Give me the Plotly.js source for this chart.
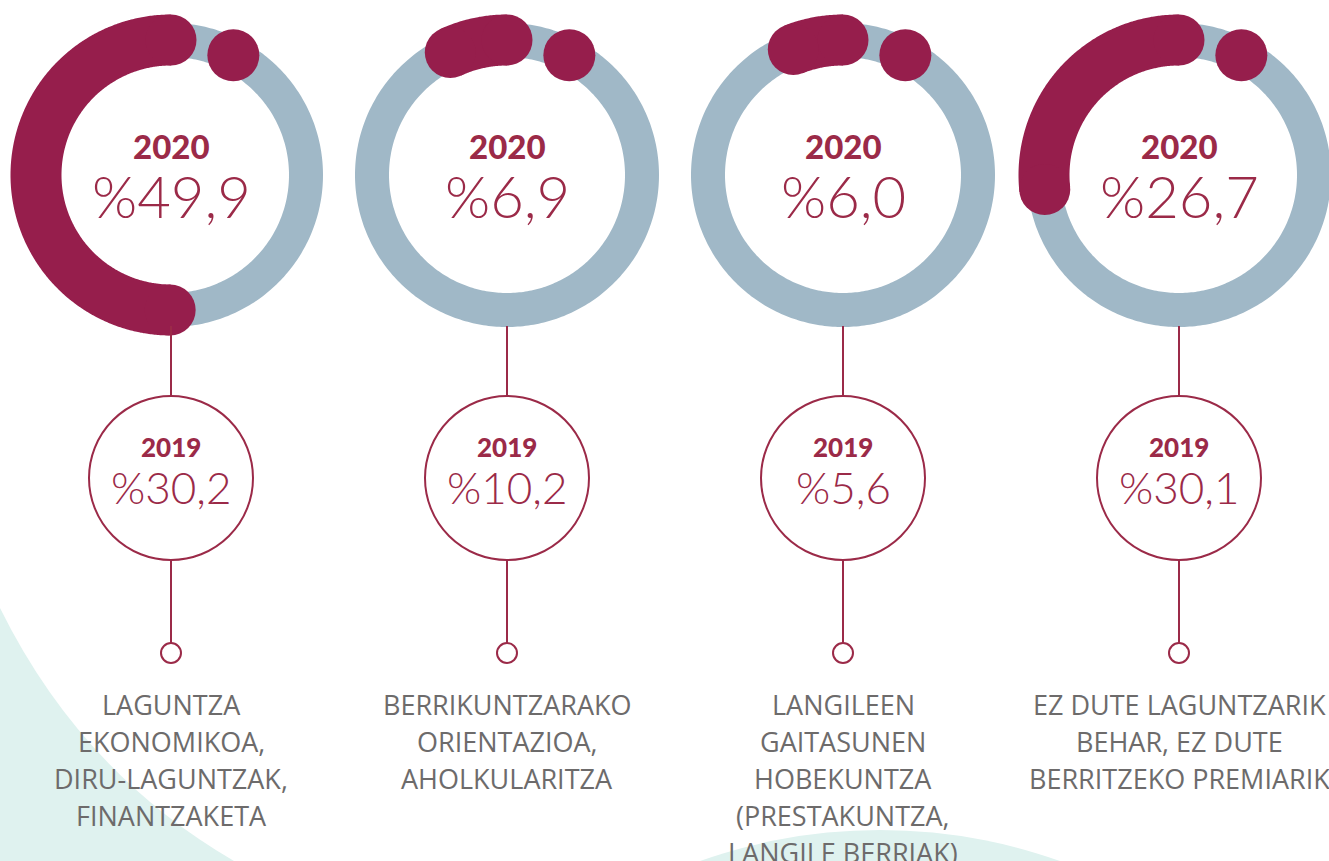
<!DOCTYPE html>
<html>
<head>
<meta charset="utf-8">
<script src="https://cdn.plot.ly/plotly-3.0.1.min.js"></script>
<style>html,body{margin:0;padding:0;background:#fff;}#chart{width:1329px;height:861px;}</style>
</head>
<body>
<div id="chart"></div>
<script>
// ---- data ----
const categories = [
  "LAGUNTZA<br>EKONOMIKOA,<br>DIRU-LAGUNTZAK,<br>FINANTZAKETA",
  "BERRIKUNTZARAKO<br>ORIENTAZIOA,<br>AHOLKULARITZA",
  "LANGILEEN<br>GAITASUNEN<br>HOBEKUNTZA<br>(PRESTAKUNTZA,<br>LANGILE BERRIAK)",
  "EZ DUTE LAGUNTZARIK<br>BEHAR, EZ DUTE<br>BERRITZEKO PREMIARIK"
];
const values2020 = [49.9, 6.9, 6.0, 26.7];
const values2019 = [30.2, 10.2, 5.6, 30.1];
const yearNow = "2020";
const yearPrev = "2019";

// ---- styling / layout geometry ----
const W = 1329, H = 861;
const centersX = [171, 507, 843, 1179];
const cy = 175, rMid = 135;
const ringW = 34, arcW = 51, dotSize = 52, dotAngle = 27.5;
const c2019y = 478, c2019r = 82;
const smallY = 653, smallR = 10;
const maroon = "#961e4c", textMaroon = "#9b2a48", ringBlue = "#a0b8c7", grey = "#6d6b6b", mint = "#dff2ef";

function pt(cx, deg) {
  const a = deg * Math.PI / 180;
  return [cx + rMid * Math.sin(a), cy - rMid * Math.cos(a)];
}
function arcPts(cx, fromDeg, toDeg, step) {
  const xs = [], ys = [];
  const n = Math.max(2, Math.ceil(Math.abs(toDeg - fromDeg) / step) + 1);
  for (let i = 0; i < n; i++) {
    const d = fromDeg + (toDeg - fromDeg) * i / (n - 1);
    const p = pt(cx, d);
    xs.push(p[0]); ys.push(p[1]);
  }
  return {x: xs, y: ys};
}
const fmt = v => "%" + v.toFixed(1).replace(".", ",");

const traces = [];
const shapes = [];
const annotations = [];

// background mint shapes
shapes.push({type: "path", xref: "x", yref: "y", layer: "below",
  path: "M 0 608 Q 81 772 234 861 L 0 861 Z", fillcolor: mint, line: {width: 0}});
shapes.push({type: "circle", xref: "x", yref: "y", layer: "below",
  x0: 342, x1: 1418, y0: 830, y1: 1906, fillcolor: mint, line: {width: 0}});

categories.forEach((cat, i) => {
  const cx = centersX[i];
  // full blue ring
  const ring = arcPts(cx, 0, 360, 1);
  traces.push({type: "scatter", mode: "lines", x: ring.x, y: ring.y,
    line: {color: ringBlue, width: ringW, simplify: false}, hoverinfo: "skip"});
  // maroon arc (counter-clockwise from top)
  const endDeg = -values2020[i] * 3.6;
  const arc = arcPts(cx, 0, endDeg, 0.5);
  traces.push({type: "scatter", mode: "lines", x: arc.x, y: arc.y,
    line: {color: maroon, width: arcW, simplify: false}, hoverinfo: "skip"});
  const p0 = pt(cx, 0), p1 = pt(cx, endDeg), pd = pt(cx, dotAngle);
  traces.push({type: "scatter", mode: "markers", x: [p0[0], p1[0]], y: [p0[1], p1[1]],
    marker: {color: maroon, size: arcW, line: {width: 0}}, hoverinfo: "skip"});
  traces.push({type: "scatter", mode: "markers", x: [pd[0]], y: [pd[1]],
    marker: {color: maroon, size: dotSize, line: {width: 0}}, hoverinfo: "skip"});

  // connector line + circles
  shapes.push({type: "line", xref: "x", yref: "y", x0: cx, x1: cx, y0: cy + rMid + ringW / 2 - 1, y1: smallY - smallR,
    line: {color: textMaroon, width: 2}});
  shapes.push({type: "circle", xref: "x", yref: "y", x0: cx - c2019r, x1: cx + c2019r,
    y0: c2019y - c2019r, y1: c2019y + c2019r, fillcolor: "#ffffff", line: {color: textMaroon, width: 2}});
  shapes.push({type: "circle", xref: "x", yref: "y", x0: cx - smallR, x1: cx + smallR,
    y0: smallY - smallR, y1: smallY + smallR, fillcolor: "#ffffff", line: {color: textMaroon, width: 2}});

  // 2020 texts
  annotations.push({x: cx, y: 146, xref: "x", yref: "y", text: yearNow, showarrow: false,
    xanchor: "center", yanchor: "middle",
    font: {family: "Lato, 'Open Sans', sans-serif", size: 33, weight: 900, color: textMaroon}});
  annotations.push({x: cx, y: 195, xref: "x", yref: "y", text: fmt(values2020[i]), showarrow: false,
    xanchor: "center", yanchor: "middle",
    font: {family: "Lato, 'Open Sans', sans-serif", size: 58, weight: 300, color: textMaroon}});
  // 2019 texts
  annotations.push({x: cx, y: 447, xref: "x", yref: "y", text: yearPrev, showarrow: false,
    xanchor: "center", yanchor: "middle",
    font: {family: "Lato, 'Open Sans', sans-serif", size: 26, weight: 900, color: textMaroon}});
  annotations.push({x: cx, y: 487, xref: "x", yref: "y", text: fmt(values2019[i]), showarrow: false,
    xanchor: "center", yanchor: "middle",
    font: {family: "Lato, 'Open Sans', sans-serif", size: 44, weight: 300, color: textMaroon}});

  // category label, one annotation per line
  cat.split("<br>").forEach((line, j) => {
    annotations.push({x: cx, y: 704 + j * 37, xref: "x", yref: "y", text: line, showarrow: false,
      xanchor: "center", yanchor: "middle",
      font: {family: "'Open Sans', sans-serif", size: 27, color: grey}});
  });
});

const layout = {
  width: W, height: H,
  margin: {l: 0, r: 0, t: 0, b: 0},
  paper_bgcolor: "#ffffff", plot_bgcolor: "#ffffff",
  showlegend: false,
  xaxis: {range: [0, W], visible: false, fixedrange: true},
  yaxis: {range: [H, 0], visible: false, fixedrange: true},
  shapes: shapes,
  annotations: annotations
};
Plotly.newPlot("chart", traces, layout, {staticPlot: true, displayModeBar: false});
</script>
</body>
</html>
